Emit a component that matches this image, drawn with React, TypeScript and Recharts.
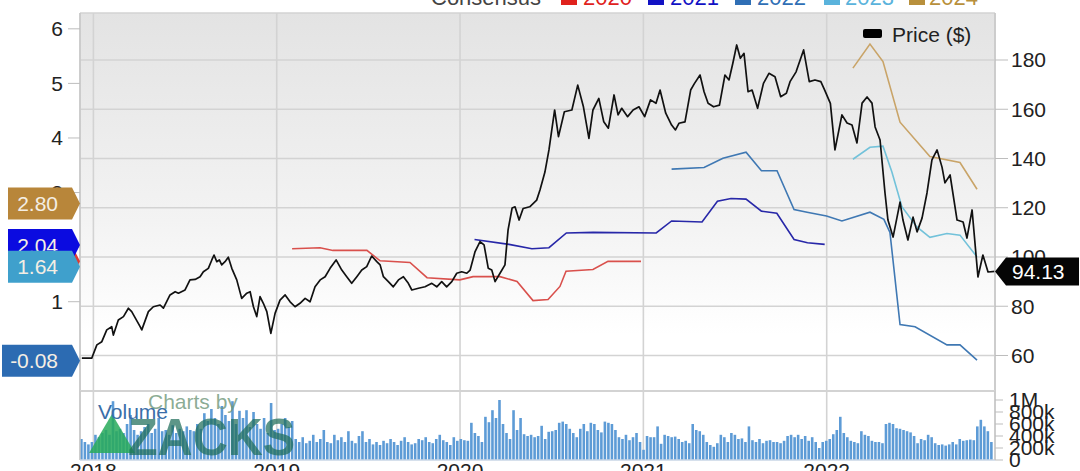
import React from 'react';
import {
  ComposedChart, Line, Bar, XAxis, YAxis, CartesianGrid, ReferenceDot, ReferenceLine,
} from 'recharts';

const FONT = '"Liberation Sans", Arial, Helvetica, sans-serif';

// ---------- axes ----------
const X_DOMAIN: [number, number] = [2017.927, 2022.918];
const yearTicks = [2018, 2019, 2020, 2021, 2022];
const priceTicks = [60, 80, 100, 120, 140, 160, 180];
const PRICE_DOMAIN: [number, number] = [45.58, 199.09];
const epsTicks = [1, 2, 3, 4, 5, 6];
const EPS_DOMAIN: [number, number] = [-0.636, 6.29];
const volTicks = [0, 200000, 400000, 600000, 800000, 1000000];
const volTickLabels = ['0', '200k', '400k', '600k', '800k', '1M'];
const VOL_DOMAIN: [number, number] = [0, 1150000];

// ---------- price (decimal year, $) ----------
const priceT = [
  2017.937, 2017.991, 2018.019, 2018.046, 2018.073, 2018.100, 2018.109, 2018.136, 2018.164, 2018.191,
  2018.209, 2018.255, 2018.264, 2018.300, 2018.327, 2018.364, 2018.382, 2018.418, 2018.446, 2018.464,
  2018.500, 2018.527, 2018.555, 2018.582, 2018.600, 2018.627, 2018.646, 2018.658, 2018.673, 2018.687,
  2018.700, 2018.718, 2018.736, 2018.755, 2018.782, 2018.809, 2018.837, 2018.855, 2018.873, 2018.891,
  2018.909, 2018.927, 2018.946, 2018.968, 2018.991, 2019.018, 2019.046, 2019.073, 2019.100, 2019.127,
  2019.155, 2019.182, 2019.209, 2019.237, 2019.264, 2019.291, 2019.324, 2019.355, 2019.382, 2019.409,
  2019.437, 2019.464, 2019.491, 2019.518, 2019.546, 2019.564, 2019.582, 2019.609, 2019.636, 2019.664,
  2019.691, 2019.718, 2019.737, 2019.773, 2019.809, 2019.846, 2019.873, 2019.900, 2019.927, 2019.955,
  2019.982, 2020.009, 2020.037, 2020.055, 2020.082, 2020.109, 2020.131, 2020.154, 2020.173, 2020.191,
  2020.218, 2020.245, 2020.262, 2020.284, 2020.300, 2020.322, 2020.344, 2020.380, 2020.418, 2020.436,
  2020.463, 2020.485, 2020.516, 2020.537, 2020.569, 2020.610, 2020.642, 2020.673, 2020.703, 2020.725,
  2020.757, 2020.784, 2020.809, 2020.840, 2020.862, 2020.882, 2020.914, 2020.944, 2020.976, 2021.007,
  2021.039, 2021.069, 2021.091, 2021.122, 2021.154, 2021.175, 2021.194, 2021.227, 2021.258, 2021.279,
  2021.309, 2021.331, 2021.353, 2021.383, 2021.415, 2021.445, 2021.467, 2021.488, 2021.509, 2021.529,
  2021.549, 2021.571, 2021.593, 2021.623, 2021.655, 2021.685, 2021.718, 2021.749, 2021.780, 2021.800,
  2021.833, 2021.874, 2021.905, 2021.936, 2021.968, 2021.989, 2022.020, 2022.045, 2022.083, 2022.111,
  2022.138, 2022.165, 2022.193, 2022.220, 2022.247, 2022.264, 2022.291, 2022.318, 2022.334, 2022.362,
  2022.400, 2022.416, 2022.443, 2022.471, 2022.493, 2022.520, 2022.547, 2022.574, 2022.602, 2022.629,
  2022.645, 2022.673, 2022.711, 2022.744, 2022.765, 2022.793, 2022.825, 2022.852, 2022.880, 2022.918,
];
const priceV = [
  58.9, 58.9, 64.3, 65.6, 70.4, 71.7, 68.3, 74.4, 75.8, 79.2,
  77.8, 71.7, 70.4, 77.8, 79.8, 80.5, 79.2, 84.6, 85.9, 85.3,
  86.6, 90.7, 90.9, 92.0, 94.0, 95.4, 98.8, 100.8, 98.1, 98.8,
  96.8, 98.1, 99.9, 95.4, 90.7, 83.2, 85.3, 85.9, 79.8, 75.8,
  83.9, 81.2, 77.8, 69.0, 77.1, 82.5, 84.6, 81.8, 79.8, 81.2,
  83.2, 81.8, 87.9, 90.7, 92.0, 95.4, 98.8, 94.7, 92.0, 89.3,
  92.0, 94.7, 96.1, 100.4, 98.1, 96.8, 92.0, 90.0, 87.9, 90.7,
  92.0, 89.3, 86.6, 87.3, 87.9, 89.3, 87.9, 90.0, 87.9, 90.0,
  93.4, 94.0, 93.4, 94.7, 102.2, 106.2, 104.9, 95.4, 94.7, 90.0,
  93.4, 96.8, 111.0, 119.9, 120.4, 115.0, 119.7, 120.4, 123.1, 127.2,
  134.5, 143.5, 159.7, 148.9, 159.0, 159.7, 169.8, 161.0, 148.2, 159.7,
  164.4, 154.9, 152.3, 165.8, 157.7, 160.4, 157.0, 159.7, 161.0, 157.0,
  163.8, 162.4, 167.8, 158.4, 153.6, 151.6, 154.3, 154.9, 167.8, 170.5,
  173.9, 167.1, 162.4, 161.0, 161.7, 173.9, 171.9, 178.7, 186.1, 180.7,
  182.7, 167.1, 167.8, 160.4, 170.5, 174.6, 173.2, 165.1, 166.5, 171.2,
  175.2, 184.1, 171.2, 171.9, 171.2, 167.8, 162.4, 143.5, 157.7, 154.4,
  153.6, 146.3, 162.5, 165.0, 162.5, 152.8, 147.5, 126.0, 115.0, 108.1,
  122.3, 115.0, 106.9, 116.2, 110.2, 115.8, 126.0, 139.4, 143.5, 136.5,
  130.1, 133.3, 115.0, 114.2, 107.7, 119.1, 91.9, 100.8, 93.9, 94.13,
];
const lastPrice = 94.13;

// ---------- consensus EPS estimates ----------
const eps2020T = [2019.084, 2019.236, 2019.307, 2019.492, 2019.564, 2019.727, 2019.820, 2019.999, 2020.071, 2020.218, 2020.311, 2020.398, 2020.480, 2020.545, 2020.578, 2020.725, 2020.807, 2020.987];
const eps2020V = [1.97, 1.99, 1.94, 1.94, 1.75, 1.72, 1.44, 1.40, 1.46, 1.46, 1.37, 1.02, 1.04, 1.28, 1.56, 1.59, 1.74, 1.74];
const eps2021T = [2020.079, 2020.267, 2020.392, 2020.485, 2020.580, 2020.725, 2021.070, 2021.154, 2021.320, 2021.404, 2021.478, 2021.560, 2021.644, 2021.728, 2021.822, 2021.895, 2021.989];
const eps2021V = [2.14, 2.05, 1.97, 1.99, 2.26, 2.27, 2.26, 2.48, 2.46, 2.84, 2.89, 2.88, 2.66, 2.62, 2.14, 2.08, 2.05];
const eps2022T = [2021.154, 2021.331, 2021.434, 2021.560, 2021.644, 2021.729, 2021.822, 2021.893, 2021.999, 2022.083, 2022.236, 2022.312, 2022.345, 2022.400, 2022.482, 2022.656, 2022.727, 2022.820];
const eps2022V = [3.43, 3.46, 3.63, 3.74, 3.40, 3.40, 2.69, 2.64, 2.57, 2.48, 2.64, 2.51, 2.27, 0.58, 0.54, 0.21, 0.21, -0.07];
const eps2023T = [2022.143, 2022.236, 2022.307, 2022.356, 2022.410, 2022.492, 2022.563, 2022.656, 2022.727, 2022.820];
const eps2023V = [3.61, 3.83, 3.85, 3.37, 2.74, 2.37, 2.18, 2.25, 2.22, 1.82];
const eps2024T = [2022.143, 2022.236, 2022.307, 2022.400, 2022.563, 2022.727, 2022.820];
const eps2024V = [5.28, 5.72, 5.40, 4.29, 3.66, 3.55, 3.06];

// current consensus badges (left side)
const badgeYears = ['2020', '2024', '2021', '2023', '2022'];
const badgeValues = [1.74, 2.80, 2.04, 1.64, -0.08];

// ---------- weekly volume (thousands of shares) ----------
const volumeStart = 2017.937;
const volumeK = [
  350, 300, 260, 300, 420, 380, 450, 500, 420, 980,
  480, 520, 450, 600, 750, 500, 420, 480, 550, 600,
  450, 520, 700, 480, 500, 420, 580, 450, 520, 480,
  560, 500, 480, 600, 520, 780, 650, 850, 700, 600,
  900, 750, 650, 980, 600, 820, 700, 830, 550, 800,
  600, 520, 700, 450, 950, 500, 520, 600, 700, 550,
  650, 350, 300, 380, 280, 320, 420, 300, 350, 500,
  300, 280, 420, 330, 380, 300, 480, 320, 280, 400,
  480, 300, 350, 260, 300, 250, 320, 280, 350, 300,
  250, 320, 380, 300, 260, 280, 350, 330, 380, 300,
  280, 350, 420, 330, 300, 250, 380, 320, 350, 330,
  320, 620, 450, 400, 300, 720, 630, 830, 700, 1000,
  600, 450, 350, 830, 500, 700, 430, 400, 420, 380,
  400, 570, 350, 470, 480, 500, 620, 640, 600, 520,
  450, 380, 520, 600, 480, 620, 600, 500, 460, 640,
  620, 600, 500, 380, 350, 420, 330, 380, 450, 300,
  170, 400, 380, 380, 560, 270, 420, 400, 380, 390,
  350, 300, 320, 280, 600, 500, 480, 420, 300, 250,
  220, 280, 420, 380, 300, 450, 420, 350, 360, 300,
  560, 330, 300, 350, 280, 320, 330, 300, 300, 280,
  320, 400, 420, 380, 420, 350, 400, 320, 380, 300,
  200, 300, 320, 350, 430, 500, 720, 450, 380, 320,
  300, 280, 480, 420, 400, 320, 300, 300, 280, 600,
  620, 600, 530, 520, 500, 480, 460, 400, 280, 350,
  330, 420, 380, 280, 250, 260, 240, 260, 300, 260,
  350, 320, 330, 340, 330, 560, 670, 560, 480, 300,
];

// ---------- styles ----------
const seriesColors: Record<string, string> = {
  '2020': '#d9504c', '2021': '#2727a8', '2022': '#3f78b3', '2023': '#72c2da', '2024': '#c9a468',
};
const badgeColors: Record<string, string> = {
  '2020': '#dd3a34', '2021': '#0b0be0', '2022': '#2c6bb2', '2023': '#3fa0cc', '2024': '#b8863a',
};
const legendColors: Record<string, string> = {
  '2020': '#e0221d', '2021': '#1212c4', '2022': '#2f6fb5', '2023': '#5ab3dc', '2024': '#b8903c',
};

const toPoints = (ts: number[], vs: number[]) => ts.map((t, i) => ({ t, v: vs[i] }));
const priceData = toPoints(priceT, priceV);
const epsSeries = [
  { year: '2020', data: toPoints(eps2020T, eps2020V) },
  { year: '2021', data: toPoints(eps2021T, eps2021V) },
  { year: '2022', data: toPoints(eps2022T, eps2022V) },
  { year: '2023', data: toPoints(eps2023T, eps2023V) },
  { year: '2024', data: toPoints(eps2024T, eps2024V) },
];
const volumeData = volumeK.map((v, i) => ({ t: volumeStart + (i * 7) / 365.25, v: v * 1000 }));

const tickStyle = { fontSize: 21, fill: '#222', fontFamily: FONT };

const LeftBadge = (props: any) => {
  const { cx, cy, label, color } = props;
  if (cx == null || cy == null) return null;
  const w = label.length > 4 ? 78 : 72;
  const h = 16;
  const pts = `${cx - w},${cy - h} ${cx - 8},${cy - h} ${cx},${cy} ${cx - 8},${cy + h} ${cx - w},${cy + h}`;
  return (
    <g>
      <polygon points={pts} fill={color} />
      <text x={cx - 22} y={cy} dy="0.36em" textAnchor="end" fontSize={21} fontFamily={FONT} fill="#f4eee4">
        {label}
      </text>
    </g>
  );
};

const RightBadge = (props: any) => {
  const { cx, cy, label } = props;
  if (cx == null || cy == null) return null;
  const h = 14;
  const pts = `${cx},${cy} ${cx + 11},${cy - h} ${cx + 84},${cy - h} ${cx + 84},${cy + h} ${cx + 11},${cy + h}`;
  return (
    <g>
      <polygon points={pts} fill="#050505" />
      <text x={cx + 17} y={cy} dy="0.36em" fontSize={21} fontFamily={FONT} fill="#fff">
        {label}
      </text>
    </g>
  );
};

const legendItems = [
  { year: '2020', sq: 561, tx: 583 },
  { year: '2021', sq: 648, tx: 670 },
  { year: '2022', sq: 735, tx: 757 },
  { year: '2023', sq: 824, tx: 845 },
  { year: '2024', sq: 909, tx: 929 },
];

export default function App() {
  return (
    <div style={{ position: 'absolute', left: 0, top: 0, width: 1080, height: 471, background: '#fff', overflow: 'hidden', fontFamily: FONT }}>
      {/* price / EPS pane */}
      <div style={{ position: 'absolute', left: 0, top: 0 }}>
        <ComposedChart width={1080} height={391} data={priceData} margin={{ top: 13, right: 0, left: 0, bottom: 0 }}>
          <defs>
            <linearGradient id="paneBg" x1="0" y1="0" x2="0" y2="1">
              <stop offset="0" stopColor="#e3e3e3" />
              <stop offset="0.55" stopColor="#f3f3f3" />
              <stop offset="0.85" stopColor="#ffffff" />
            </linearGradient>
          </defs>
          <CartesianGrid yAxisId="price" stroke="#d3d3d3" strokeWidth={1.6} fill="url(#paneBg)" fillOpacity={1} />
          <XAxis dataKey="t" type="number" domain={X_DOMAIN} ticks={yearTicks} allowDataOverflow hide />
          <YAxis
            yAxisId="eps" orientation="left" width={80} type="number" domain={EPS_DOMAIN} ticks={epsTicks}
            allowDataOverflow interval={0} tick={tickStyle} tickSize={12} tickMargin={5}
            axisLine={{ stroke: '#c9c9c9', strokeWidth: 1.5 }} tickLine={{ stroke: '#bdbdbd' }}
          />
          <YAxis
            yAxisId="price" orientation="right" width={85} type="number" domain={PRICE_DOMAIN} ticks={priceTicks}
            allowDataOverflow interval={0} tick={tickStyle} tickSize={13} tickMargin={3}
            axisLine={{ stroke: '#c9c9c9', strokeWidth: 1.5 }} tickLine={{ stroke: '#bdbdbd' }}
          />
          {epsSeries.map((s) => (
            <Line
              key={s.year} yAxisId="eps" data={s.data} dataKey="v" type="linear"
              stroke={seriesColors[s.year]} strokeWidth={1.6} dot={false} isAnimationActive={false}
            />
          ))}
          <Line
            yAxisId="price" dataKey="v" type="linear" stroke="#111" strokeWidth={1.7}
            strokeLinejoin="round" dot={false} isAnimationActive={false}
          />
        </ComposedChart>
      </div>

      {/* badge overlay (same scales, drawn above the axes) */}
      <div style={{ position: 'absolute', left: 0, top: 0 }}>
        <ComposedChart width={1080} height={391} data={priceData} margin={{ top: 13, right: 85, left: 80, bottom: 0 }}>
          <XAxis dataKey="t" type="number" domain={X_DOMAIN} allowDataOverflow hide />
          <YAxis yAxisId="eps" type="number" domain={EPS_DOMAIN} allowDataOverflow hide />
          <YAxis yAxisId="price" orientation="right" type="number" domain={PRICE_DOMAIN} allowDataOverflow hide />
          {badgeValues.map((v, i) => (
            <ReferenceDot
              key={badgeYears[i]} yAxisId="eps" x={X_DOMAIN[0]} y={v} ifOverflow="visible"
              shape={(p: any) => <LeftBadge {...p} label={v.toFixed(2)} color={badgeColors[badgeYears[i]]} />}
            />
          ))}
          <ReferenceDot
            yAxisId="price" x={X_DOMAIN[1]} y={lastPrice} ifOverflow="visible"
            shape={(p: any) => <RightBadge {...p} label={lastPrice.toFixed(2)} />}
          />
        </ComposedChart>
      </div>

      {/* volume pane */}
      <div style={{ position: 'absolute', left: 0, top: 389 }}>
        <ComposedChart width={1080} height={82} data={volumeData} margin={{ top: 2, right: 0, left: 80, bottom: 0 }}>
          <CartesianGrid stroke="#d3d3d3" strokeWidth={1.6} horizontal={false} />
          <XAxis
            dataKey="t" type="number" domain={X_DOMAIN} ticks={yearTicks} allowDataOverflow height={11}
            interval={0} tick={tickStyle} tickSize={0} tickMargin={3} tickFormatter={(v: number) => String(v)}
            axisLine={{ stroke: '#c8d6e6', strokeWidth: 1.5 }}
          />
          <YAxis
            orientation="right" width={85} type="number" domain={VOL_DOMAIN} ticks={volTicks}
            allowDataOverflow interval={0} tick={tickStyle} tickSize={8} tickMargin={6}
            tickFormatter={(v: number) => volTickLabels[volTicks.indexOf(v)]}
            axisLine={{ stroke: '#c9c9c9', strokeWidth: 1.5 }} tickLine={{ stroke: '#bdbdbd' }}
          />
          <ReferenceLine y={VOL_DOMAIN[1]} stroke="#d3d3d3" strokeWidth={2} />
          <ReferenceLine x={X_DOMAIN[0]} stroke="#c9c9c9" strokeWidth={1.5} />
          <Bar dataKey="v" fill="#5d9bd6" barSize={2.6} isAnimationActive={false} />
        </ComposedChart>
      </div>

      {/* legend, watermark */}
      <svg width={1080} height={471} style={{ position: 'absolute', left: 0, top: 0, pointerEvents: 'none' }}>
        <text x={431} y={5} fontSize={22} fontFamily={FONT} fill="#444">Consensus</text>
        {legendItems.map((it) => (
          <g key={it.year}>
            <rect x={it.sq} y={-11} width={16} height={16} fill={legendColors[it.year]} />
            <text x={it.tx} y={5} fontSize={22} fontFamily={FONT} fill={legendColors[it.year]}>{it.year}</text>
          </g>
        ))}
        <rect x={863} y={29} width={19} height={9} rx={2} fill="#000" />
        <text x={892} y={42} fontSize={21} fontFamily={FONT} fill="#222">Price ($)</text>

        <text x={148} y={409} fontSize={21} fontFamily={FONT} fill="rgba(110,150,120,0.8)">Charts by</text>
        <polygon points="89,453 112,414 135,453" fill="rgba(40,170,90,0.85)" />
        <text x={128} y={455} fontSize={52} fontWeight="bold" fontFamily={FONT} textLength={167} lengthAdjust="spacingAndGlyphs" fill="rgba(30,110,90,0.72)">ZACKS</text>
        <text x={98} y={419} fontSize={21} fontFamily={FONT} fill="#3a6ea8">Volume</text>
      </svg>
    </div>
  );
}
